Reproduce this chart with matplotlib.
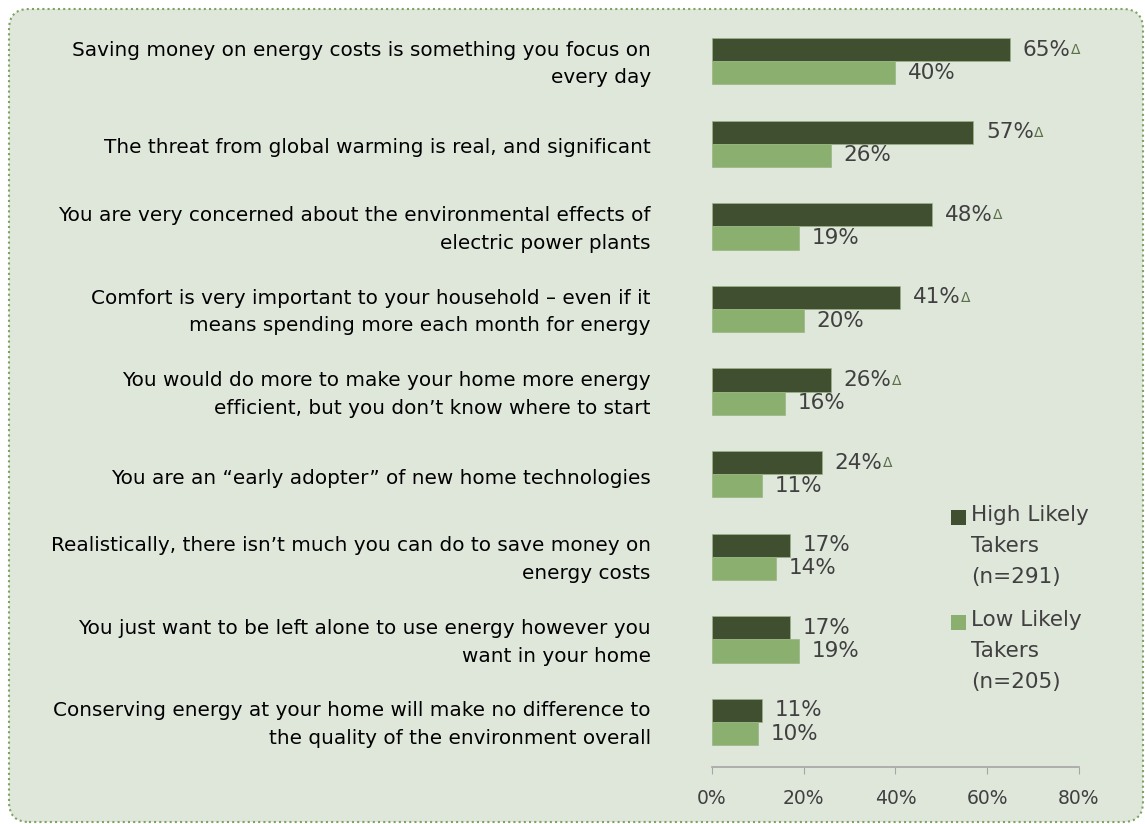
import matplotlib
matplotlib.use("Agg")
import matplotlib.pyplot as plt
from matplotlib.patches import FancyBboxPatch, Rectangle
from matplotlib.transforms import ScaledTranslation
import numpy as np

statements = [
    "Saving money on energy costs is something you focus on\nevery day",
    "The threat from global warming is real, and significant",
    "You are very concerned about the environmental effects of\nelectric power plants",
    "Comfort is very important to your household \u2013 even if it\nmeans spending more each month for energy",
    "You would do more to make your home more energy\nefficient, but you don\u2019t know where to start",
    "You are an \u201cearly adopter\u201d of new home technologies",
    "Realistically, there isn\u2019t much you can do to save money on\nenergy costs",
    "You just want to be left alone to use energy however you\nwant in your home",
    "Conserving energy at your home will make no difference to\nthe quality of the environment overall",
]
high_likely = [65, 57, 48, 41, 26, 24, 17, 17, 11]
low_likely = [40, 26, 19, 20, 16, 11, 14, 19, 10]
significant = [True, True, True, True, True, True, False, False, False]
legend_labels = ["High Likely\nTakers\n(n=291)", "Low Likely\nTakers\n(n=205)"]
xticks = [0, 20, 40, 60, 80]

dark = "#3f4f30"
light = "#8baf6e"
txt_col = "#404040"
bg = "#dfe6da"

plt.rcParams['font.family'] = ['DejaVu Sans']

fig = plt.figure(figsize=(11.45, 8.24), dpi=100)
fig.patch.set_facecolor("white")

# rounded dotted panel behind everything
panel = FancyBboxPatch((0.09, 0.02), 11.34, 8.13,
                       boxstyle="round,pad=0,rounding_size=0.2",
                       transform=fig.dpi_scale_trans, facecolor=bg,
                       edgecolor="#7fa260", linestyle=(0, (1, 1.5)), linewidth=1.5,
                       zorder=-10)
fig.patches.append(panel)

ax = fig.add_axes([0.6218, 0.0692, 0.3205, 0.9066])
ax.set_facecolor("none")

y = np.arange(len(statements))
h = 0.28
ax.barh(y - h / 2, high_likely, height=h, color=dark, edgecolor="#9bb585", linewidth=0.5)
ax.barh(y + h / 2, low_likely, height=h, color=light, edgecolor="#9bb585", linewidth=0.5)

for i in range(len(statements)):
    t = ax.annotate(f"{high_likely[i]}%", xy=(high_likely[i], y[i] - h / 2),
                    xytext=(9, 0), textcoords="offset points",
                    va="center", ha="left", fontsize=15.5, color=txt_col)
    if significant[i]:
        ax.annotate("\u0394", xy=(1, 0), xycoords=t, xytext=(0.3, 1.8),
                    textcoords="offset points", va="bottom", ha="left",
                    fontsize=10, color="#5c7049")
    ax.annotate(f"{low_likely[i]}%", xy=(low_likely[i], y[i] + h / 2),
                xytext=(9, 0), textcoords="offset points",
                va="center", ha="left", fontsize=15.5, color=txt_col)

ax.set_xlim(0, 80)
ax.set_ylim(8.545, -0.5)
ax.set_xticks(xticks)
ax.set_xticklabels([f"{v}%" for v in xticks], fontsize=13.5, color=txt_col)
ax.set_yticks(y)
ax.set_yticklabels(statements, fontsize=14.4, color="black", linespacing=1.58)
ax.tick_params(axis="y", length=0, pad=44)
ax.tick_params(axis="x", length=5, color="#a6a6a6", pad=11)
# nudge the two-line statements up a little, single lines down a touch
for lbl in ax.get_yticklabels():
    dy = 0.035 if "\n" in lbl.get_text() else -0.02
    lbl.set_transform(lbl.get_transform() + ScaledTranslation(0, dy, fig.dpi_scale_trans))
for s in ["top", "right", "left"]:
    ax.spines[s].set_visible(False)
ax.spines["bottom"].set_color("#a6a6a6")
ax.spines["bottom"].set_linewidth(1.2)

# legend, drawn by hand so the square sits on the first line
for k, (lab, col) in enumerate(zip(legend_labels, [dark, light])):
    top = 8.24 - (5.05 + k * 1.05)
    fig.patches.append(Rectangle((9.51, top - 0.20), 0.15, 0.15, transform=fig.dpi_scale_trans,
                                 facecolor=col, edgecolor="none"))
    fig.text(9.71 / 11.45, top / 8.24, lab, ha="left", va="top", fontsize=15.5,
             color=txt_col, linespacing=1.68)

fig.savefig("out.png", dpi=100, facecolor=fig.get_facecolor())
